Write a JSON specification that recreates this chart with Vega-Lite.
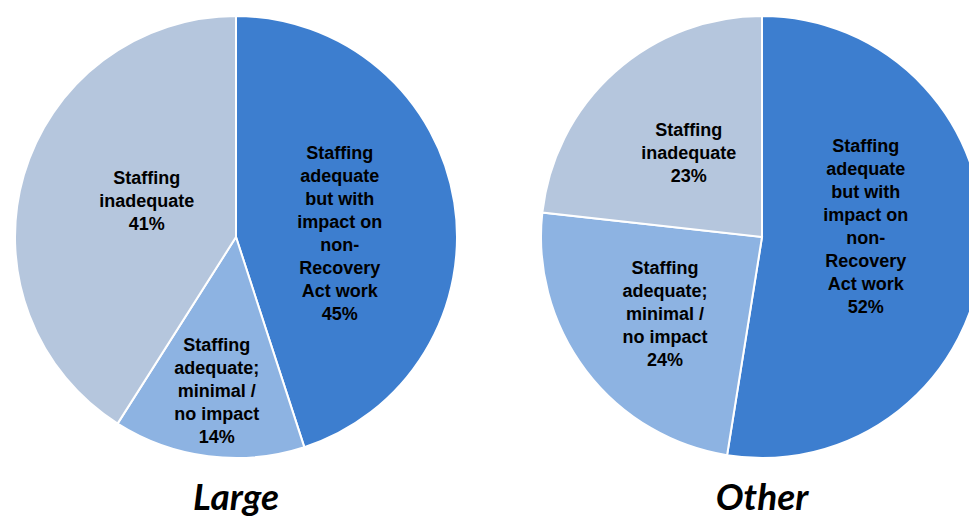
{
  "$schema": "https://vega.github.io/schema/vega-lite/v6.json",
  "padding": 0,
  "background": "white",
  "spacing": 65,
  "config": {
    "view": {"stroke": null},
    "text": {"font": "Liberation Sans", "fontSize": 18, "fontWeight": "bold", "lineBreak": "\n", "lineHeight": 23, "align": "center", "baseline": "middle", "fill": "black", "letterSpacing": -1}
  },
  "data": {"values": [
    {"group": "Large", "cat": "Staffing adequate but with impact on non-Recovery Act work", "label": "Staffing\nadequate\nbut with\nimpact on\nnon-\nRecovery\nAct work", "pct": 45},
    {"group": "Large", "cat": "Staffing adequate; minimal / no impact", "label": "Staffing\nadequate;\nminimal /\nno impact", "pct": 14},
    {"group": "Large", "cat": "Staffing inadequate", "label": "Staffing\ninadequate", "pct": 41},
    {"group": "Other", "cat": "Staffing adequate but with impact on non-Recovery Act work", "label": "Staffing\nadequate\nbut with\nimpact on\nnon-\nRecovery\nAct work", "pct": 52},
    {"group": "Other", "cat": "Staffing adequate; minimal / no impact", "label": "Staffing\nadequate;\nminimal /\nno impact", "pct": 24},
    {"group": "Other", "cat": "Staffing inadequate", "label": "Staffing\ninadequate", "pct": 23}
  ]},
  "transform": [
    {"calculate": "datum.label + '\\n' + datum.pct + '%'", "as": "txt"},
    {"calculate": "indexof(datum.cat, 'but with') >= 0 ? datum.txt : ''", "as": "t1"},
    {"calculate": "indexof(datum.cat, 'minimal') >= 0 ? datum.txt : ''", "as": "t2"},
    {"calculate": "datum.cat === 'Staffing inadequate' ? datum.txt : ''", "as": "t3"}
  ],
  "hconcat": [
    {
      "width": 472, "height": 474,
      "title": {"text": "Large", "orient": "bottom", "font": "Lato", "fontSize": 37, "fontStyle": "italic", "fontWeight": "bold", "color": "black", "offset": 7, "anchor": "middle"},
      "transform": [{"filter": "datum.group === 'Large'"}],
      "encoding": {
        "theta": {"field": "pct", "type": "quantitative", "stack": true},
        "order": {"field": "cat", "type": "nominal", "sort": "ascending"}
      },
      "layer": [
        {
          "mark": {"type": "arc", "outerRadius": 221, "stroke": "white", "strokeWidth": 2},
          "encoding": {
            "color": {"field": "cat", "type": "nominal", "legend": null,
              "scale": {"domain": ["Staffing adequate but with impact on non-Recovery Act work", "Staffing adequate; minimal / no impact", "Staffing inadequate"], "range": ["#3d7ecf", "#8db3e2", "#b5c6dd"]}}
          }
        },
        {"mark": {"type": "text", "radius": 105, "dy": -67}, "encoding": {"text": {"field": "t1", "type": "nominal"}}},
        {"mark": {"type": "text", "radius": 154, "dy": -44}, "encoding": {"text": {"field": "t2", "type": "nominal"}}},
        {"mark": {"type": "text", "radius": 93, "dy": -32}, "encoding": {"text": {"field": "t3", "type": "nominal"}}}
      ]
    },
    {
      "width": 400, "height": 474,
      "title": {"text": "Other", "orient": "bottom", "font": "Lato", "fontSize": 37, "fontStyle": "italic", "fontWeight": "bold", "color": "black", "offset": 7, "anchor": "middle"},
      "transform": [{"filter": "datum.group === 'Other'"}],
      "encoding": {
        "theta": {"field": "pct", "type": "quantitative", "stack": true},
        "order": {"field": "cat", "type": "nominal", "sort": "ascending"}
      },
      "layer": [
        {
          "mark": {"type": "arc", "outerRadius": 221, "stroke": "white", "strokeWidth": 2},
          "encoding": {
            "color": {"field": "cat", "type": "nominal", "legend": null,
              "scale": {"domain": ["Staffing adequate but with impact on non-Recovery Act work", "Staffing adequate; minimal / no impact", "Staffing inadequate"], "range": ["#3d7ecf", "#8db3e2", "#b5c6dd"]}}
          }
        },
        {"mark": {"type": "text", "radius": 104, "dy": -98}, "encoding": {"text": {"field": "t1", "type": "nominal"}}},
        {"mark": {"type": "text", "radius": 122, "dy": -42}, "encoding": {"text": {"field": "t2", "type": "nominal"}}},
        {"mark": {"type": "text", "radius": 110, "dy": -24}, "encoding": {"text": {"field": "t3", "type": "nominal"}}}
      ]
    }
  ]
}
